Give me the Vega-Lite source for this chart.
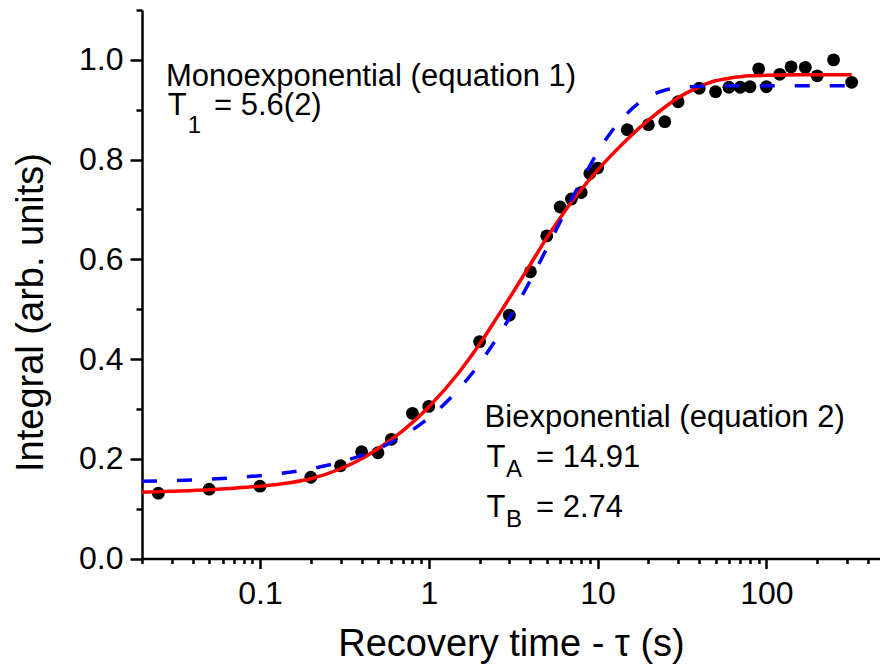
{
  "$schema": "https://vega.github.io/schema/vega-lite/v6.json",
  "width": 738,
  "height": 548.5,
  "autosize": {"type": "none"},
  "padding": {"left": 142, "top": 10, "right": 0, "bottom": 111.5},
  "background": "white",
  "config": {
    "view": {"stroke": null},
    "font": "Liberation Sans",
    "axis": {
      "labelFont": "Liberation Sans",
      "titleFont": "Liberation Sans",
      "labelColor": "#000000",
      "titleColor": "#000000",
      "tickColor": "#000000",
      "domainColor": "#000000",
      "grid": false,
      "titleFontWeight": "normal",
      "tickWidth": 2.5,
      "domainWidth": 2.5,
      "labelOverlap": false,
      "labelFlush": false
    }
  },
  "datasets": {
    "points": [
      {"t": 0.025, "v": 0.131}, {"t": 0.05, "v": 0.139}, {"t": 0.1, "v": 0.145},
      {"t": 0.2, "v": 0.163}, {"t": 0.3, "v": 0.186}, {"t": 0.4, "v": 0.214},
      {"t": 0.5, "v": 0.212}, {"t": 0.6, "v": 0.239}, {"t": 0.8, "v": 0.291},
      {"t": 1, "v": 0.305}, {"t": 2, "v": 0.435}, {"t": 3, "v": 0.488},
      {"t": 4, "v": 0.575}, {"t": 5, "v": 0.647}, {"t": 6, "v": 0.705},
      {"t": 7, "v": 0.721}, {"t": 8, "v": 0.734}, {"t": 9, "v": 0.772},
      {"t": 10, "v": 0.783}, {"t": 15, "v": 0.86}, {"t": 20, "v": 0.87},
      {"t": 25, "v": 0.876}, {"t": 30, "v": 0.916}, {"t": 40, "v": 0.943},
      {"t": 50, "v": 0.936}, {"t": 60, "v": 0.945}, {"t": 70, "v": 0.945},
      {"t": 80, "v": 0.946}, {"t": 90, "v": 0.982}, {"t": 100, "v": 0.946},
      {"t": 120, "v": 0.971}, {"t": 140, "v": 0.986}, {"t": 170, "v": 0.985},
      {"t": 200, "v": 0.968}, {"t": 250, "v": 1.0}, {"t": 320, "v": 0.955}
    ],
    "biexp": [
      {"t": 0.02, "v": 0.133}, {"t": 0.03, "v": 0.135}, {"t": 0.05, "v": 0.138},
      {"t": 0.07, "v": 0.141}, {"t": 0.1, "v": 0.145}, {"t": 0.15, "v": 0.152},
      {"t": 0.2, "v": 0.16}, {"t": 0.3, "v": 0.18}, {"t": 0.4, "v": 0.2},
      {"t": 0.5, "v": 0.22}, {"t": 0.7, "v": 0.256}, {"t": 1, "v": 0.304},
      {"t": 1.5, "v": 0.372}, {"t": 2, "v": 0.43}, {"t": 2.5, "v": 0.48},
      {"t": 3, "v": 0.522}, {"t": 4, "v": 0.59}, {"t": 5, "v": 0.643},
      {"t": 6, "v": 0.683}, {"t": 7, "v": 0.715}, {"t": 8, "v": 0.74},
      {"t": 10, "v": 0.779}, {"t": 12, "v": 0.808}, {"t": 15, "v": 0.841},
      {"t": 20, "v": 0.879}, {"t": 25, "v": 0.905}, {"t": 30, "v": 0.924},
      {"t": 40, "v": 0.946}, {"t": 50, "v": 0.958}, {"t": 60, "v": 0.963},
      {"t": 80, "v": 0.968}, {"t": 100, "v": 0.969}, {"t": 150, "v": 0.97},
      {"t": 200, "v": 0.97}, {"t": 320, "v": 0.97}
    ],
    "monoexp": [
      {"t": 0.02, "v": 0.155}, {"t": 0.03, "v": 0.156}, {"t": 0.05, "v": 0.159},
      {"t": 0.07, "v": 0.162}, {"t": 0.1, "v": 0.166}, {"t": 0.15, "v": 0.173},
      {"t": 0.2, "v": 0.18}, {"t": 0.3, "v": 0.1935}, {"t": 0.4, "v": 0.207},
      {"t": 0.5, "v": 0.22}, {"t": 0.7, "v": 0.2455}, {"t": 1, "v": 0.282},
      {"t": 1.5, "v": 0.339}, {"t": 2, "v": 0.391}, {"t": 2.5, "v": 0.439},
      {"t": 3, "v": 0.482}, {"t": 4, "v": 0.558}, {"t": 5, "v": 0.622},
      {"t": 6, "v": 0.675}, {"t": 7, "v": 0.72}, {"t": 8, "v": 0.757},
      {"t": 9, "v": 0.788}, {"t": 10, "v": 0.8145}, {"t": 12, "v": 0.855},
      {"t": 15, "v": 0.893}, {"t": 20, "v": 0.926}, {"t": 25, "v": 0.939},
      {"t": 30, "v": 0.944}, {"t": 40, "v": 0.947}, {"t": 50, "v": 0.948},
      {"t": 320, "v": 0.948}
    ],
    "labels": [
      {"t": 0.0277, "v": 0.948, "label": "Monoexponential (equation 1)"},
      {"t": 0.0284, "v": 0.8885, "label": "T"},
      {"t": 0.0534, "v": 0.8885, "label": "= 5.6(2)"},
      {"t": 2.141, "v": 0.2644, "label": "Biexponential (equation 2)"},
      {"t": 2.197, "v": 0.1836, "label": "T"},
      {"t": 4.316, "v": 0.1836, "label": "= 14.91"},
      {"t": 2.197, "v": 0.0833, "label": "T"},
      {"t": 4.316, "v": 0.0833, "label": "= 2.74"}
    ],
    "subs": [
      {"t": 0.0373, "v": 0.854, "label": "1"},
      {"t": 2.866, "v": 0.1635, "label": "A"},
      {"t": 2.866, "v": 0.0633, "label": "B"}
    ]
  },
  "layer": [
    {
      "data": {"name": "points"},
      "mark": {"type": "point", "opacity": 0},
      "encoding": {
        "x": {
          "field": "t", "type": "quantitative",
          "scale": {"type": "log", "domain": [0.02, 471], "nice": false},
          "axis": {
            "orient": "bottom", "values": [0.02, 0.03, 0.04, 0.05, 0.06, 0.07, 0.08, 0.09, 0.2, 0.3, 0.4, 0.5, 0.6, 0.7, 0.8, 0.9, 2, 3, 4, 5, 6, 7, 8, 9, 20, 30, 40, 50, 60, 70, 80, 90, 200, 300, 400],
            "labels": false, "domain": false, "tickSize": 5, "title": null
          }
        },
        "y": {
          "field": "v", "type": "quantitative",
          "scale": {"domain": [0, 1.1], "nice": false, "zero": false},
          "axis": {
            "orient": "left", "values": [0.1, 0.3, 0.5, 0.7, 0.9, 1.1],
            "labels": false, "domain": false, "tickSize": 6, "title": null
          }
        }
      }
    },
    {
      "data": {"name": "points"},
      "mark": {"type": "circle", "size": 165, "color": "#000000", "opacity": 1},
      "encoding": {
        "x": {
          "field": "t", "type": "quantitative",
          "scale": {"type": "log", "domain": [0.02, 471], "nice": false},
          "axis": {
            "orient": "bottom", "values": [0.1, 1, 10, 100], "format": "~g",
            "tickSize": 10, "labelFontSize": 32, "labelPadding": 9.5,
            "title": "Recovery time - τ (s)", "titleFontSize": 38, "titlePadding": 16
          }
        },
        "y": {
          "field": "v", "type": "quantitative",
          "scale": {"domain": [0, 1.1], "nice": false, "zero": false},
          "axis": {
            "orient": "left", "values": [0, 0.2, 0.4, 0.6, 0.8, 1.0], "format": ".1f",
            "tickSize": 12, "labelFontSize": 32, "labelPadding": 7,
            "title": "Integral (arb. units)", "titleFontSize": 38, "titlePadding": 28, "titleY": 302
          }
        }
      }
    },
    {
      "data": {"name": "biexp"},
      "mark": {"type": "line", "color": "#ff0000", "strokeWidth": 3.5, "interpolate": "monotone"},
      "encoding": {
        "x": {"field": "t", "type": "quantitative", "scale": {"type": "log", "domain": [0.02, 471], "nice": false}, "axis": null},
        "y": {"field": "v", "type": "quantitative", "scale": {"domain": [0, 1.1], "nice": false, "zero": false}, "axis": null}
      }
    },
    {
      "data": {"name": "monoexp"},
      "mark": {"type": "line", "color": "#0000ff", "strokeWidth": 3.5, "strokeDash": [15, 20], "interpolate": "monotone"},
      "encoding": {
        "x": {"field": "t", "type": "quantitative", "scale": {"type": "log", "domain": [0.02, 471], "nice": false}, "axis": null},
        "y": {"field": "v", "type": "quantitative", "scale": {"domain": [0, 1.1], "nice": false, "zero": false}, "axis": null}
      }
    },
    {
      "data": {"name": "labels"},
      "mark": {"type": "text", "align": "left", "baseline": "alphabetic", "fontSize": 31, "font": "Liberation Sans", "color": "#000000"},
      "encoding": {
        "x": {"field": "t", "type": "quantitative", "scale": {"type": "log", "domain": [0.02, 471], "nice": false}, "axis": null},
        "y": {"field": "v", "type": "quantitative", "scale": {"domain": [0, 1.1], "nice": false, "zero": false}, "axis": null},
        "text": {"field": "label"}
      }
    },
    {
      "data": {"name": "subs"},
      "mark": {"type": "text", "align": "left", "baseline": "alphabetic", "fontSize": 24, "font": "Liberation Sans", "color": "#000000"},
      "encoding": {
        "x": {"field": "t", "type": "quantitative", "scale": {"type": "log", "domain": [0.02, 471], "nice": false}, "axis": null},
        "y": {"field": "v", "type": "quantitative", "scale": {"domain": [0, 1.1], "nice": false, "zero": false}, "axis": null},
        "text": {"field": "label"}
      }
    }
  ],
  "resolve": {"axis": {"x": "independent", "y": "independent"}}
}
